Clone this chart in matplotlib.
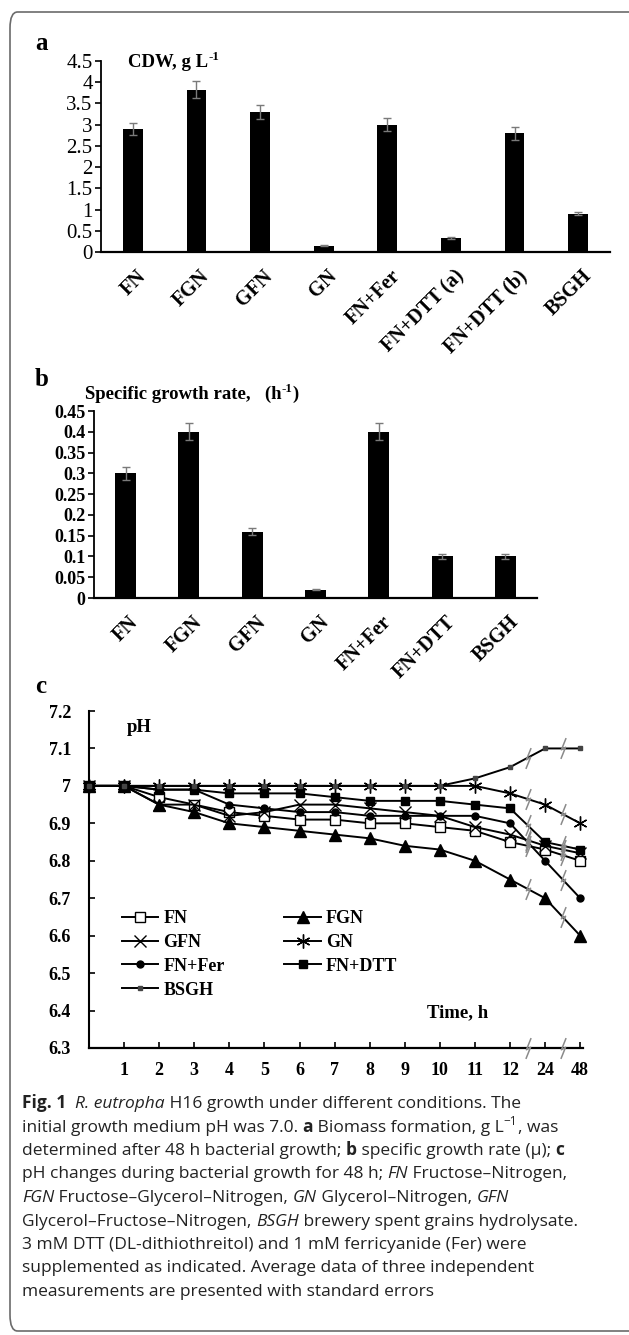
import matplotlib
matplotlib.use('Agg')
import matplotlib.pyplot as plt
from matplotlib.patches import FancyBboxPatch
from matplotlib.path import Path
from matplotlib.text import Annotation
import matplotlib.transforms as mtrans
import numpy as np

# ---------------- data ----------------
cdw_labels = ['FN', 'FGN', 'GFN', 'GN', 'FN+Fer', 'FN+DTT (a)', 'FN+DTT (b)', 'BSGH']
cdw_values = [2.9, 3.82, 3.3, 0.15, 3.0, 0.33, 2.8, 0.9]
cdw_errors = [0.15, 0.2, 0.17, 0.012, 0.15, 0.02, 0.15, 0.04]
cdw_ticks = [0, 0.5, 1, 1.5, 2, 2.5, 3, 3.5, 4, 4.5]
cdw_ticklabels = ['0', '0.5', '1', '1.5', '2', '2.5', '3', '3.5', '4', '4.5']

mu_labels = ['FN', 'FGN', 'GFN', 'GN', 'FN+Fer', 'FN+DTT', 'BSGH']
mu_values = [0.30, 0.40, 0.16, 0.02, 0.40, 0.10, 0.10]
mu_errors = [0.015, 0.02, 0.008, 0.0015, 0.02, 0.005, 0.005]
mu_ticks = [0, 0.05, 0.1, 0.15, 0.2, 0.25, 0.3, 0.35, 0.4, 0.45]
mu_ticklabels = ['0', '0.05', '0.1', '0.15', '0.2', '0.25', '0.3', '0.35', '0.4', '0.45']

time_labels = ['', '1', '2', '3', '4', '5', '6', '7', '8', '9', '10', '11', '12', '24', '48']
ph_FN = [7.0, 7.0, 6.97, 6.95, 6.93, 6.92, 6.91, 6.91, 6.90, 6.90, 6.89, 6.88, 6.85, 6.83, 6.80]
ph_FGN = [7.0, 7.0, 6.95, 6.93, 6.90, 6.89, 6.88, 6.87, 6.86, 6.84, 6.83, 6.80, 6.75, 6.70, 6.60]
ph_GFN = [7.0, 7.0, 6.95, 6.95, 6.92, 6.93, 6.95, 6.95, 6.94, 6.93, 6.92, 6.89, 6.87, 6.84, 6.82]
ph_GN = [7.0, 7.0, 7.0, 7.0, 7.0, 7.0, 7.0, 7.0, 7.0, 7.0, 7.0, 7.0, 6.98, 6.95, 6.90]
ph_Fer = [7.0, 7.0, 6.99, 6.99, 6.95, 6.94, 6.93, 6.93, 6.92, 6.92, 6.92, 6.92, 6.90, 6.80, 6.70]
ph_DTT = [7.0, 7.0, 6.99, 6.99, 6.98, 6.98, 6.98, 6.97, 6.96, 6.96, 6.96, 6.95, 6.94, 6.85, 6.83]
ph_BSGH = [7.0, 7.0, 7.0, 7.0, 7.0, 7.0, 7.0, 7.0, 7.0, 7.0, 7.0, 7.02, 7.05, 7.10, 7.10]
ph_ticks = [6.3, 6.4, 6.5, 6.6, 6.7, 6.8, 6.9, 7.0, 7.1, 7.2]
ph_ticklabels = ['6.3', '6.4', '6.5', '6.6', '6.7', '6.8', '6.9', '7', '7.1', '7.2']

# ---------------- figure ----------------
W, H = 629, 1335
DPI = 100
fig = plt.figure(figsize=(W / DPI, H / DPI), dpi=DPI)
fig.patch.set_facecolor('white')

SERIF = ['Liberation Serif', 'DejaVu Serif']
SANS = ['Open Sans', 'DejaVu Sans']


def fx(px):
    return px / W


def fy(py):
    return 1 - py / H


def chain(x, y, parts, family, size, color='black'):
    """Draw a run of differently styled text pieces on one line (x,y in px, y = bottom)."""
    first = None
    prev = None
    for s, st in parts:
        kw = dict(family=family, fontsize=size, color=color,
                  weight='bold' if 'b' in st else 'normal',
                  style='italic' if 'i' in st else 'normal')
        if prev is None:
            t = fig.text(fx(x), fy(y), s, ha='left', va='bottom', **kw)
            first = t
        else:
            if 's' in st:
                kw['fontsize'] = size * 0.68
                t = Annotation(s, xy=(1, 0), xycoords=(prev, first), xytext=(0, size * 0.42),
                               textcoords='offset points', ha='left', va='bottom', **kw)
            else:
                t = Annotation(s, xy=(1, 0), xycoords=(prev, first), ha='left', va='bottom', **kw)
            fig.add_artist(t)
        prev = t
    return first


# rounded frame
frame = FancyBboxPatch((fx(10), fy(1331)), fx(660) - fx(10), fy(12) - fy(1331),
                       boxstyle='round,pad=0,rounding_size=0.012', transform=fig.transFigure,
                       facecolor='none', edgecolor='#6b6b6b', linewidth=1.2, clip_on=False)
fig.add_artist(frame)

XLAB_SIZE = 14.5

# ---------------- panel a ----------------
axa = fig.add_axes([fx(101), fy(252), fx(610) - fx(101), fy(61) - fy(252)])
xa = np.arange(len(cdw_labels))
axa.bar(xa, cdw_values, width=0.31, color='black', zorder=2)
axa.errorbar(xa, cdw_values, yerr=cdw_errors, fmt='none', ecolor='#7a7a7a', elinewidth=1.0,
             capsize=3, capthick=1.0, zorder=3)
axa.set_xlim(-0.5, len(cdw_labels) - 0.5)
axa.set_ylim(0, 4.5)
axa.set_yticks(cdw_ticks)
axa.set_yticklabels(cdw_ticklabels, family=SERIF, fontsize=15)
axa.set_xticks(xa)
axa.set_xticklabels(cdw_labels, family=SERIF, fontsize=XLAB_SIZE, weight='bold', rotation=45,
                    ha='right', va='center', rotation_mode='anchor')
for sp in ['top', 'right']:
    axa.spines[sp].set_visible(False)
axa.spines['left'].set_linewidth(1.3)
axa.spines['bottom'].set_linewidth(1.6)
axa.tick_params(axis='y', direction='out', length=4, width=1.2, pad=2)
axa.tick_params(axis='x', length=0, pad=0)
off = mtrans.ScaledTranslation(10 / DPI, -21 / DPI, fig.dpi_scale_trans)
for lab in axa.get_xticklabels():
    lab.set_transform(lab.get_transform() + off)

fig.text(fx(35), fy(43), 'a', family=SERIF, weight='bold', fontsize=18, ha='left', va='center')
chain(128, 71, [('CDW, g L', 'b'), ('-1', 'bs')], SERIF, 13.5)

# ---------------- panel b ----------------
axb = fig.add_axes([fx(94), fy(598), fx(537) - fx(94), fy(411) - fy(598)])
xb = np.arange(len(mu_labels))
axb.bar(xb, mu_values, width=0.33, color='black', zorder=2)
axb.errorbar(xb, mu_values, yerr=mu_errors, fmt='none', ecolor='#7a7a7a', elinewidth=1.0,
             capsize=3, capthick=1.0, zorder=3)
axb.set_xlim(-0.5, len(mu_labels) - 0.5)
axb.set_ylim(0, 0.45)
axb.set_yticks(mu_ticks)
axb.set_yticklabels(mu_ticklabels, family=SERIF, fontsize=13, weight='bold')
axb.set_xticks(xb)
axb.set_xticklabels(mu_labels, family=SERIF, fontsize=XLAB_SIZE, weight='bold', rotation=45,
                    ha='right', va='center', rotation_mode='anchor')
for sp in ['top', 'right']:
    axb.spines[sp].set_visible(False)
axb.spines['left'].set_linewidth(1.3)
axb.spines['bottom'].set_linewidth(1.6)
axb.tick_params(axis='y', direction='out', length=4, width=1.2, pad=2)
axb.tick_params(axis='x', length=0, pad=0)
for lab in axb.get_xticklabels():
    lab.set_transform(lab.get_transform() + off)

fig.text(fx(35), fy(379), 'b', family=SERIF, weight='bold', fontsize=18, ha='left', va='center')
chain(85, 403, [('Specific growth rate,   (h', 'b'), ('-1', 'bs'), (')', 'b')], SERIF, 13.5)

# ---------------- panel c ----------------
axc = fig.add_axes([fx(89), fy(1048), fx(583) - fx(89), fy(711) - fy(1048)])
xc = np.arange(len(time_labels))
series = [
    ('FN', ph_FN, dict(marker='s', ms=7, mfc='white', mec='black', mew=1.0)),
    ('FGN', ph_FGN, dict(marker='^', ms=8, mfc='black', mec='black')),
    ('GFN', ph_GFN, dict(marker='x', ms=8, mec='black', mew=1.0)),
    ('GN', ph_GN, dict(marker=(6, 2, 0), ms=10, mec='black', mew=1.0)),
    ('FN+Fer', ph_Fer, dict(marker='o', ms=5, mfc='black', mec='black')),
    ('FN+DTT', ph_DTT, dict(marker='s', ms=6, mfc='black', mec='black')),
    ('BSGH', ph_BSGH, dict(marker='s', ms=3, mfc='#444444', mec='#444444')),
]
handles = {}
for name, vals, mk in series:
    ln, = axc.plot(xc, vals, color='black', lw=1.4, label=name, clip_on=False, zorder=3, **mk)
    handles[name] = ln

# axis-break marks (zig-zags) half way between 12-24 and 24-48
zig = Path([(-0.25, -1.0), (0.2, 0.12), (-0.2, -0.12), (0.25, 1.0)],
           [Path.MOVETO, Path.LINETO, Path.LINETO, Path.LINETO])
for i in (12, 13):
    xm = (xc[i] + xc[i + 1]) / 2
    for name, vals, mk in series:
        ym = (vals[i] + vals[i + 1]) / 2
        axc.plot([xm], [ym], marker=zig, ms=15, mfc='none', mec='#8a8a8a', mew=1.1, ls='none',
                 zorder=4, clip_on=False)
    axc.plot([xm], [6.3], marker=zig, ms=15, mfc='none', mec='#8a8a8a', mew=1.1, ls='none',
             zorder=4, clip_on=False)

axc.set_xlim(0, 14.08)
axc.set_ylim(6.3, 7.2)
axc.set_yticks(ph_ticks)
axc.set_yticklabels(ph_ticklabels, family=SERIF, fontsize=13, weight='bold')
axc.set_xticks(xc[1:])
axc.set_xticklabels(time_labels[1:], family=SERIF, fontsize=13, weight='bold')
for sp in ['top', 'right']:
    axc.spines[sp].set_visible(False)
axc.spines['left'].set_linewidth(1.5)
axc.spines['bottom'].set_linewidth(1.6)
axc.tick_params(axis='y', direction='in', length=4, width=1.2, pad=13)
axc.tick_params(axis='x', direction='in', length=4, width=1.2, pad=10)

order = ['FN', 'GFN', 'FN+Fer', 'BSGH', 'FGN', 'GN', 'FN+DTT']
leg = axc.legend([handles[n] for n in order], order, ncol=2, loc='upper left',
                 bbox_to_anchor=((124 - 89 - 2) / 494, (1048 - 910) / 337), frameon=False,
                 prop=dict(family=SERIF, weight='bold', size=13), handlelength=2.0,
                 handletextpad=0.3, columnspacing=3.3, labelspacing=0.38, borderpad=0,
                 borderaxespad=0)

fig.text(fx(35), fy(687), 'c', family=SERIF, weight='bold', fontsize=18, ha='left', va='center')
fig.text(fx(127), fy(727), 'pH', family=SERIF, weight='bold', fontsize=13.5, ha='left', va='center')
fig.text(fx(427), fy(1013), 'Time, h', family=SERIF, weight='bold', fontsize=13.5, ha='left',
         va='center')

# ---------------- caption ----------------
cap = 12.5
x0 = 22
base = 1112
step = 23.5
lines = [
    [('Fig. 1', 'b'), ('  ', ''), ('R. eutropha', 'i'), (' H16 growth under different conditions. The', '')],
    [('initial growth medium pH was 7.0. ', ''), ('a', 'b'), (' Biomass formation, g L', ''),
     ('\u22121', 's'), (', was', '')],
    [('determined after 48 h bacterial growth; ', ''), ('b', 'b'),
     (' specific growth rate (\u00b5); ', ''), ('c', 'b')],
    [('pH changes during bacterial growth for 48 h; ', ''), ('FN', 'i'), (' Fructose\u2013Nitrogen,', '')],
    [('FGN', 'i'), (' Fructose\u2013Glycerol\u2013Nitrogen, ', ''), ('GN', 'i'),
     (' Glycerol\u2013Nitrogen, ', ''), ('GFN', 'i')],
    [('Glycerol\u2013Fructose\u2013Nitrogen, ', ''), ('BSGH', 'i'), (' brewery spent grains hydrolysate.', '')],
    [('3 mM DTT (DL-dithiothreitol) and 1 mM ferricyanide (Fer) were', '')],
    [('supplemented as indicated. Average data of three independent', '')],
    [('measurements are presented with standard errors', '')],
]
for k, parts in enumerate(lines):
    chain(x0, base + k * step, parts, SANS, cap, color='#222222')

fig.savefig('out.png', dpi=DPI, facecolor='white')
